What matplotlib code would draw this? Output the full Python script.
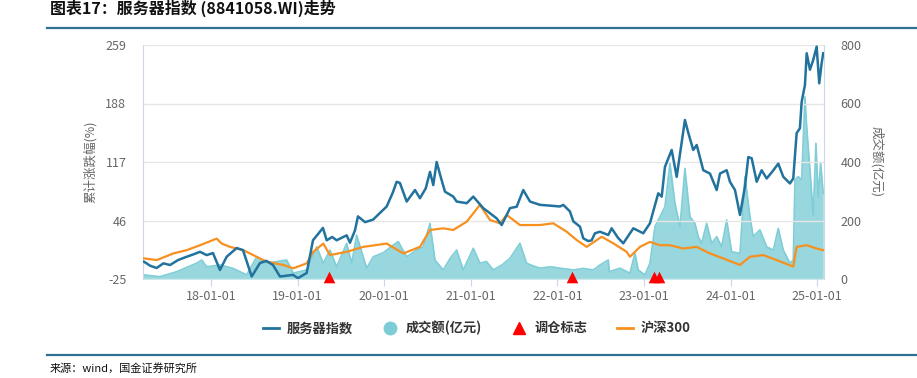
import matplotlib
matplotlib.use("Agg")
import matplotlib.pyplot as plt
from matplotlib.lines import Line2D
import numpy as np

plt.rcParams['font.family'] = ['Noto Sans CJK SC', 'DejaVu Sans']

# ---------------- data (x in decimal years) ----------------
server_x = [2017.215, 2017.226, 2017.30, 2017.373, 2017.45, 2017.527, 2017.62, 2017.719, 2017.80, 2017.873,
            2017.95, 2018.023, 2018.104, 2018.181, 2018.297, 2018.370, 2018.470, 2018.566, 2018.64, 2018.716,
            2018.797, 2018.947, 2019.005, 2019.105, 2019.178, 2019.293, 2019.336, 2019.40, 2019.451, 2019.567,
            2019.605, 2019.663, 2019.697, 2019.78, 2019.871, 2019.95, 2020.029, 2020.10, 2020.144, 2020.182,
            2020.260, 2020.356, 2020.413, 2020.48, 2020.529, 2020.567, 2020.606, 2020.65, 2020.702, 2020.798,
            2020.837, 2020.953, 2021.029, 2021.144, 2021.22, 2021.299, 2021.357, 2021.453, 2021.530, 2021.606,
            2021.684, 2021.799, 2021.92, 2022.030, 2022.068, 2022.145, 2022.184, 2022.261, 2022.299, 2022.357,
            2022.396, 2022.434, 2022.492, 2022.588, 2022.627, 2022.70, 2022.761, 2022.877, 2022.992, 2023.069,
            2023.165, 2023.205, 2023.242, 2023.320, 2023.378, 2023.473, 2023.513, 2023.569, 2023.609, 2023.685,
            2023.762, 2023.840, 2023.878, 2023.955, 2023.993, 2024.051, 2024.109, 2024.166, 2024.205, 2024.244,
            2024.302, 2024.359, 2024.417, 2024.48, 2024.551, 2024.609, 2024.686, 2024.724, 2024.763, 2024.801,
            2024.821, 2024.859, 2024.879, 2024.917, 2024.955, 2024.994, 2025.024, 2025.052, 2025.070]
server_y = [-4, -4, -9, -11.6, -6, -8, -2, 2, 5, 8,
            4, 6.5, -14, 2, 12.6, 10, -22, -5.6, -3, -8,
            -22, -20, -24, -17.7, 22, 37, 22, 26, 22, 28,
            19, 34, 51, 44, 47, 55, 63, 80, 93, 91.5,
            69, 83, 73, 85, 105, 89, 117, 100, 81, 75,
            69, 67, 75, 61, 55, 48.6, 40.5, 61, 62.7, 83,
            69, 65, 64, 63, 65, 57, 45, 38.5, 24.4, 21,
            22, 30.5, 32.4, 28.4, 36.5, 25, 18.3, 36.5, 30.5, 42.6,
            79, 75, 111, 131.6, 99, 168, 152, 131.6, 137.6, 107,
            103, 83, 103, 107, 93, 83, 52.7, 87, 123, 121.5,
            93, 107, 97, 105, 115, 99, 91, 97, 152, 158,
            190, 210.5, 249, 229, 241, 257, 212.5, 237, 249]

hs300_x = [2017.215, 2017.226, 2017.373, 2017.565, 2017.719, 2017.873, 2018.066, 2018.124, 2018.219, 2018.373,
           2018.488, 2018.643, 2018.835, 2018.950, 2019.105, 2019.181, 2019.297, 2019.374, 2019.567, 2019.759,
           2020.029, 2020.221, 2020.413, 2020.529, 2020.682, 2020.798, 2020.953, 2021.106, 2021.222, 2021.337,
           2021.415, 2021.568, 2021.799, 2021.953, 2022.107, 2022.223, 2022.338, 2022.512, 2022.646, 2022.800,
           2022.838, 2022.954, 2023.069, 2023.185, 2023.300, 2023.454, 2023.609, 2023.762, 2023.915, 2024.109,
           2024.224, 2024.378, 2024.532, 2024.724, 2024.763, 2024.879, 2024.994, 2025.070]
hs300_y = [0, 0, -2, 6, 10, 16, 24, 18, 14, 10,
           4, -4, -8, -12, -6, 8, 18, 4, 8, 14,
           18, 6, 14, 34.5, 36.5, 34.5, 44.6, 65, 46.6, 42.6,
           52.7, 40.5, 40.5, 42.6, 32.4, 22.3, 14, 26.3, 18.3, 8,
           2, 14, 20, 16, 16, 12, 14, 6, 0, -8,
           2, 4, -2, -10, 14, 16, 12, 10]

vol_x = [2017.215, 2017.226, 2017.411, 2017.604, 2017.738, 2017.835, 2017.893, 2017.950, 2018.104, 2018.258,
         2018.412, 2018.528, 2018.643, 2018.874, 2018.950, 2019.105, 2019.221, 2019.297, 2019.374, 2019.451,
         2019.567, 2019.625, 2019.682, 2019.798, 2019.874, 2019.99, 2020.105, 2020.163, 2020.260, 2020.375,
         2020.45, 2020.529, 2020.587, 2020.682, 2020.76, 2020.837, 2020.913, 2021.029, 2021.106, 2021.18,
         2021.260, 2021.36, 2021.453, 2021.568, 2021.645, 2021.72, 2021.799, 2021.92, 2022.030, 2022.184,
         2022.30, 2022.415, 2022.492, 2022.588, 2022.600, 2022.723, 2022.838, 2022.896, 2022.934, 2023.011,
         2023.069, 2023.127, 2023.185, 2023.242, 2023.300, 2023.358, 2023.416, 2023.473, 2023.531, 2023.589,
         2023.627, 2023.666, 2023.724, 2023.782, 2023.840, 2023.897, 2023.955, 2024.013, 2024.109, 2024.166,
         2024.224, 2024.262, 2024.339, 2024.417, 2024.494, 2024.551, 2024.609, 2024.686, 2024.724, 2024.744,
         2024.782, 2024.821, 2024.859, 2024.879, 2024.917, 2024.955, 2024.986, 2025.012, 2025.040, 2025.070]
vol_y = [14, 14, 8, 25, 42, 54, 65, 42, 48, 36,
         14, 76, 54, 65, 20, 31, 110, 54, 99, 42,
         122, 54, 150, 37, 76, 90, 116, 128, 76, 99,
         110, 190, 65, 31, 70, 99, 31, 105, 54, 60,
         31, 48, 71, 122, 54, 45, 37, 42, 37, 31,
         36, 31, 48, 65, 25, 37, 20, 88, 31, 14,
         54, 179, 213, 247, 396, 259, 179, 378, 213, 190,
         145, 122, 190, 122, 145, 110, 202, 93, 88, 350,
         213, 145, 168, 110, 99, 173, 99, 54, 65, 339,
         350, 339, 623, 521, 373, 219, 464, 281, 396, 293]

rebalance_x = [2019.363, 2022.169, 2023.115, 2023.173]

xtick_pos = [2018, 2019, 2020, 2021, 2022, 2023, 2024, 2025]
xtick_labels = ['18-01-01', '19-01-01', '20-01-01', '21-01-01', '22-01-01', '23-01-01', '24-01-01', '25-01-01']
ytick_left = [-25, 46, 117, 188, 259]
ytick_right = [0, 200, 400, 600, 800]

# ---------------- styles ----------------
BLUE = '#22729e'
ORANGE = '#f7901e'
TEAL_FILL = '#98d7de'
TEAL_LINE = '#7fcdd6'
TICK_C = '#666666'
AXIS_C = '#ccd6eb'
GRID_C = '#e6e6e6'

fig = plt.figure(figsize=(9.17, 3.78), dpi=100)
ax = fig.add_axes([143/917, 1-279/378, (824-143)/917, (279-45)/378])
ax2 = ax.twinx()

xmin, xmax = 2017.215, 2025.079

# volume area on right axis (drawn below)
ax2.fill_between(vol_x, 0, vol_y, color=TEAL_FILL, lw=0, zorder=1)
ax2.plot(vol_x, vol_y, color=TEAL_LINE, lw=1.2, zorder=2)
ax2.set_ylim(0, 800)
ax2.set_yticks(ytick_right)
ax2.set_yticklabels([str(v) for v in ytick_right])

# bring left axis on top
ax.set_zorder(ax2.get_zorder() + 1)
ax.patch.set_visible(False)

ax.plot(hs300_x, hs300_y, color=ORANGE, lw=1.6, zorder=3)
ax.plot(server_x, server_y, color=BLUE, lw=1.8, zorder=4)
ax.scatter(rebalance_x, [-22.5] * len(rebalance_x), marker='^', s=70, color='#ff0000',
           zorder=5, clip_on=False, linewidths=0)

ax.set_xlim(xmin, xmax)
ax.set_ylim(-25, 259)
ax.set_yticks(ytick_left)
ax.set_yticklabels([str(v) for v in ytick_left])
ax.set_xticks(xtick_pos)
ax.set_xticklabels(xtick_labels)
ax.grid(axis='y', color=GRID_C, lw=1.0, zorder=0)
ax2.grid(False)

for a in (ax, ax2):
    for s in a.spines.values():
        s.set_visible(False)
    a.tick_params(colors=TICK_C, labelsize=9)
ax.spines['left'].set_visible(True)
ax.spines['left'].set_color(AXIS_C)
ax.spines['right'].set_visible(True)
ax.spines['right'].set_color(AXIS_C)
ax.tick_params(axis='y', length=0, pad=12)
ax2.tick_params(axis='y', length=0, pad=12)
ax.tick_params(axis='x', length=5, color=AXIS_C, pad=3)

ax.set_ylabel('累计涨跌幅(%)', color=TICK_C, fontsize=9, labelpad=6)
ax2.set_ylabel('成交额(亿元)', color=TICK_C, fontsize=9, rotation=270, labelpad=16)

# title / rules / source
fig.text(50/917, 1 - 8/378, '图表17：服务器指数 (8841058.WI)走势', fontsize=11.5, fontweight='bold',
         fontstyle='italic', va='center', ha='left', color='#111111')
fig.add_artist(Line2D([47/917, 1], [1 - 28/378, 1 - 28/378], color='#2f6f92', lw=1.6))
fig.add_artist(Line2D([47/917, 1], [1 - 355/378, 1 - 355/378], color='#2f6f92', lw=1.6))
fig.text(50/917, 1 - 368/378, '来源：wind，国金证券研究所', fontsize=8, va='center', ha='left', color='#111111')

# legend
handles = [
    Line2D([], [], color=BLUE, lw=2),
    Line2D([], [], marker='o', ls='none', color='#7ecdd6', markersize=9),
    Line2D([], [], marker='^', ls='none', color='#ff0000', markersize=8),
    Line2D([], [], color=ORANGE, lw=2),
]
labels = ['服务器指数', '成交额(亿元)', '调仓标志', '沪深300']
leg = fig.legend(handles, labels, loc='center', bbox_to_anchor=(477/917, 1 - 328/378), ncol=4,
                 frameon=False, fontsize=9.5, handlelength=1.2, handletextpad=0.6, columnspacing=2.2)
for t in leg.get_texts():
    t.set_color('#333333')
    t.set_fontweight('bold')

fig.savefig('out.png', dpi=100)
